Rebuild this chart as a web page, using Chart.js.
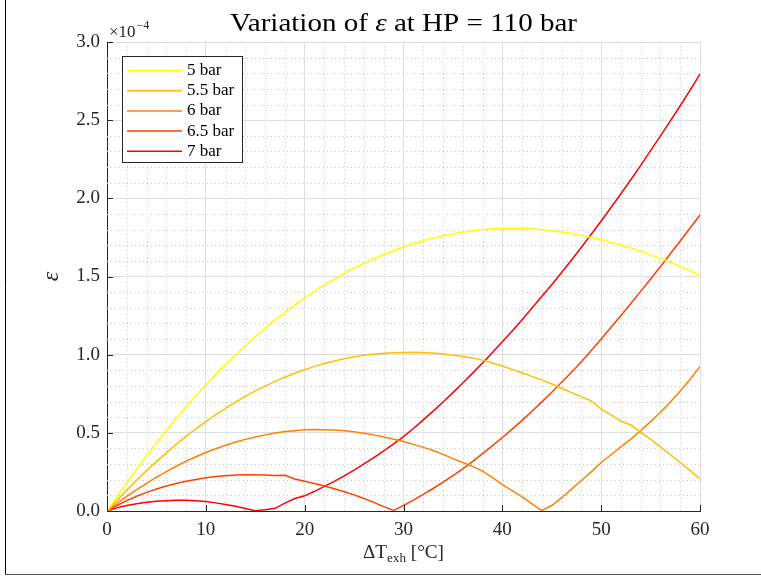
<!DOCTYPE html>
<html>
<head>
<meta charset="utf-8">
<script src="https://cdn.jsdelivr.net/npm/chart.js@4.4.1/dist/chart.umd.min.js"></script>
<style>
    html, body { margin: 0; padding: 0; background: #fff; }
    canvas { display: block; }
</style>
</head>
<body>
<canvas id="epsChart" width="761" height="576"></canvas>
<script>
// exhaust temperature difference, degC
const deltaT = [0, 1, 2, 3, 4, 5, 6, 7, 8, 9, 10, 11, 12, 13, 14, 15, 16, 17, 18, 19, 20,
    21, 22, 23, 24, 25, 26, 27, 28, 29, 30, 31, 32, 33, 34, 35, 36, 37, 38, 39, 40,
    41, 42, 43, 44, 45, 46, 47, 48, 49, 50, 51, 52, 53, 54, 55, 56, 57, 58, 59, 60];

// epsilon (x 1e-4) per low pressure
const eps5 = [0, 0.092, 0.182, 0.269, 0.354, 0.436, 0.515, 0.592, 0.667, 0.739, 0.808,
    0.874, 0.938, 0.999, 1.059, 1.116, 1.171, 1.223, 1.271, 1.318, 1.363,
    1.406, 1.446, 1.484, 1.520, 1.554, 1.585, 1.614, 1.641, 1.666, 1.690,
    1.711, 1.730, 1.746, 1.761, 1.774, 1.785, 1.794, 1.800, 1.805, 1.808,
    1.809, 1.808, 1.805, 1.800, 1.793, 1.785, 1.775, 1.763, 1.750, 1.735,
    1.719, 1.702, 1.683, 1.662, 1.640, 1.616, 1.591, 1.564, 1.536, 1.506];
const eps55 = [0, 0.068, 0.134, 0.197, 0.258, 0.316, 0.372, 0.426, 0.477, 0.526, 0.572,
    0.616, 0.657, 0.696, 0.733, 0.768, 0.799, 0.829, 0.856, 0.881, 0.904,
    0.925, 0.944, 0.960, 0.974, 0.986, 0.996, 1.003, 1.009, 1.012, 1.014,
    1.015, 1.014, 1.011, 1.005, 0.998, 0.989, 0.978, 0.965, 0.947, 0.927,
    0.906, 0.884, 0.861, 0.837, 0.812, 0.785, 0.757, 0.730, 0.705, 0.652,
    0.615, 0.575, 0.550, 0.505, 0.458, 0.410, 0.360, 0.310, 0.258, 0.205];
const eps6 = [0, 0.048, 0.093, 0.136, 0.177, 0.216, 0.252, 0.286, 0.318, 0.347, 0.374,
    0.398, 0.421, 0.441, 0.458, 0.474, 0.487, 0.499, 0.508, 0.514, 0.519,
    0.521, 0.520, 0.518, 0.514, 0.507, 0.498, 0.487, 0.474, 0.459, 0.444,
    0.426, 0.407, 0.387, 0.362, 0.335, 0.310, 0.285, 0.255, 0.215, 0.168,
    0.130, 0.090, 0.046, 0.003, 0.035, 0.085, 0.140, 0.195, 0.250, 0.310,
    0.360, 0.410, 0.460, 0.515, 0.572, 0.632, 0.697, 0.767, 0.843, 0.925];
const eps65 = [0, 0.035, 0.066, 0.094, 0.119, 0.141, 0.160, 0.176, 0.190, 0.202, 0.212,
    0.220, 0.226, 0.230, 0.232, 0.232, 0.230, 0.227, 0.229, 0.205, 0.190,
    0.176, 0.160, 0.142, 0.123, 0.103, 0.080, 0.055, 0.028, 0.004, 0.036,
    0.070, 0.106, 0.144, 0.184, 0.226, 0.270, 0.318, 0.367, 0.418, 0.470,
    0.524, 0.580, 0.638, 0.698, 0.760, 0.823, 0.888, 0.955, 1.026, 1.100,
    1.175, 1.250, 1.327, 1.405, 1.484, 1.564, 1.645, 1.727, 1.810, 1.894];
const eps7 = [0, 0.020, 0.035, 0.047, 0.056, 0.062, 0.066, 0.068, 0.068, 0.065, 0.060,
    0.052, 0.042, 0.030, 0.016, 0.002, 0.008, 0.017, 0.050, 0.080, 0.097,
    0.126, 0.157, 0.190, 0.225, 0.262, 0.301, 0.342, 0.385, 0.430, 0.476,
    0.528, 0.583, 0.639, 0.697, 0.757, 0.819, 0.882, 0.947, 1.014, 1.082,
    1.152, 1.224, 1.298, 1.373, 1.447, 1.525, 1.605, 1.687, 1.770, 1.855,
    1.941, 2.029, 2.119, 2.211, 2.305, 2.399, 2.495, 2.592, 2.692, 2.795];

const seriesLabels = ['5 bar', '5.5 bar', '6 bar', '6.5 bar', '7 bar'];
const seriesValues = [eps5, eps55, eps6, eps65, eps7];
const seriesColors = ['#ffff00', '#ffbf00', '#ff8000', '#ff4000', '#ff0000'];

const SERIF = '"Liberation Serif", "DejaVu Serif", serif';
const AXIS = '#262626';

const toPoints = (ys) => ys.map((y, i) => ({ x: deltaT[i], y: y }));

// draws a run of [text, fontPrefix, size, dy] pieces, optionally squeezed/stretched to a width
function drawRuns(ctx, runs, cx, baseY, targetW) {
    let w = 0;
    runs.forEach(r => { ctx.font = r[1] + r[2] + 'px ' + SERIF; w += ctx.measureText(r[0]).width; });
    const sx = targetW ? targetW / w : 1;
    ctx.save();
    ctx.translate(cx, baseY);
    ctx.scale(sx, 1);
    let x = -w / 2;
    runs.forEach(r => {
        ctx.font = r[1] + r[2] + 'px ' + SERIF;
        ctx.fillText(r[0], x, r[3]);
        x += ctx.measureText(r[0]).width;
    });
    ctx.restore();
}

// dotted minor grid, inward ticks, legend box, texts
const matlabLook = {
    id: 'matlabLook',
    beforeDatasetsDraw(chart) {
        const { ctx, chartArea: a, scales: { x, y } } = chart;
        ctx.save();
        ctx.strokeStyle = '#c8c8c8';
        ctx.lineWidth = 1;
        ctx.setLineDash([1, 3]);
        for (let v = 2; v < 60; v += 2) {
            if (v % 10 === 0) continue;
            const px = Math.round(x.getPixelForValue(v)) + 0.5;
            ctx.beginPath(); ctx.moveTo(px, a.top); ctx.lineTo(px, a.bottom); ctx.stroke();
        }
        for (let k = 1; k < 30; k++) {
            if (k % 5 === 0) continue;
            const py = Math.round(y.getPixelForValue(k / 10)) + 0.5;
            ctx.beginPath(); ctx.moveTo(a.left, py); ctx.lineTo(a.right, py); ctx.stroke();
        }
        ctx.restore();
    },
    afterDatasetsDraw(chart) {
        const { ctx, chartArea: a, scales: { x, y } } = chart;
        ctx.save();
        // inward ticks
        ctx.strokeStyle = AXIS;
        ctx.lineWidth = 1;
        for (let v = 0; v <= 60; v += 10) {
            const px = Math.round(x.getPixelForValue(v)) + 0.5;
            ctx.beginPath(); ctx.moveTo(px, a.bottom); ctx.lineTo(px, a.bottom - 6); ctx.stroke();
        }
        for (let v = 0; v <= 3; v += 0.5) {
            const py = Math.round(y.getPixelForValue(v)) + 0.5;
            ctx.beginPath(); ctx.moveTo(a.left, py); ctx.lineTo(a.left + 6, py); ctx.stroke();
        }
        // legend
        const lx = 122.5, ly = 56.5, lw = 120, lh = 106;
        ctx.fillStyle = '#fff';
        ctx.fillRect(lx, ly, lw, lh);
        ctx.strokeStyle = AXIS;
        ctx.strokeRect(lx, ly, lw, lh);
        ctx.font = '17px ' + SERIF;
        ctx.textBaseline = 'middle';
        ctx.textAlign = 'left';
        chart.data.datasets.forEach((ds, i) => {
            const ry = 70.5 + i * 20.2;
            ctx.strokeStyle = ds.borderColor;
            ctx.lineWidth = 1.5;
            ctx.beginPath(); ctx.moveTo(127, ry); ctx.lineTo(182, ry); ctx.stroke();
            ctx.fillStyle = '#000';
            ctx.fillText(ds.label, 187, ry);
        });
        ctx.restore();
    },
    afterDraw(chart) {
        const { ctx, chartArea: a } = chart;
        const mid = (a.left + a.right) / 2;
        ctx.save();
        ctx.fillStyle = '#000';
        ctx.textBaseline = 'alphabetic';
        // title with italic epsilon
        drawRuns(ctx, [['Variation of ', '', 26, 0], ['\u03b5', 'italic ', 26, 0], [' at HP = 110 bar', '', 26, 0]], mid, 31, 347);
        // exponent label
        ctx.fillStyle = AXIS;
        ctx.font = '17px ' + SERIF;
        ctx.fillText('\u00d710', 109, 37);
        const ex = 109 + ctx.measureText('\u00d710').width;
        ctx.font = '12px ' + SERIF;
        ctx.fillText('\u22124', ex + 1, 29);
        // x axis title with subscript
        drawRuns(ctx, [['\u0394T', '', 19, 0], ['exh', '', 13, 4], [' [\u00b0C]', '', 19, 0]], mid, 558, 81);
        // y axis title
        ctx.translate(58, (a.top + a.bottom) / 2);
        ctx.rotate(-Math.PI / 2);
        ctx.textAlign = 'center';
        ctx.font = 'italic 24px ' + SERIF;
        ctx.fillText('\u03b5', 0, 0);
        ctx.restore();
        // figure frame edges
        ctx.save();
        ctx.strokeStyle = '#000';
        ctx.lineWidth = 1;
        ctx.beginPath(); ctx.moveTo(5.5, 0); ctx.lineTo(5.5, 575); ctx.stroke();
        ctx.strokeStyle = '#555';
        ctx.beginPath(); ctx.moveTo(5, 574.5); ctx.lineTo(761, 574.5); ctx.stroke();
        ctx.restore();
    }
};

new Chart(document.getElementById('epsChart'), {
    type: 'line',
    data: {
        datasets: seriesValues.map((vals, i) => ({
            label: seriesLabels[i],
            data: toPoints(vals),
            borderColor: seriesColors[i],
            borderWidth: 1.5,
            pointRadius: 0,
            fill: false,
            tension: 0
        }))
    },
    options: {
        responsive: false,
        devicePixelRatio: 1,
        animation: false,
        layout: { padding: { top: 42, right: 61, left: 0, bottom: 0 } },
        plugins: {
            legend: { display: false },
            title: { display: false },
            tooltip: { enabled: false }
        },
        scales: {
            x: {
                type: 'linear',
                min: 0,
                max: 60,
                afterFit: (s) => { s.height = 65; },
                ticks: {
                    stepSize: 10,
                    color: AXIS,
                    font: { family: SERIF, size: 19 },
                    padding: 8,
                    maxRotation: 0
                },
                grid: { color: '#dedede', drawTicks: false },
                border: { color: AXIS, width: 1 }
            },
            y: {
                min: 0,
                max: 3,
                afterFit: (s) => { s.width = 107; },
                ticks: {
                    stepSize: 0.5,
                    color: AXIS,
                    font: { family: SERIF, size: 19 },
                    padding: 7,
                    callback: (v) => v.toFixed(1)
                },
                grid: { color: '#dedede', drawTicks: false },
                border: { color: AXIS, width: 1 }
            }
        }
    },
    plugins: [matlabLook]
});
</script>
</body>
</html>
